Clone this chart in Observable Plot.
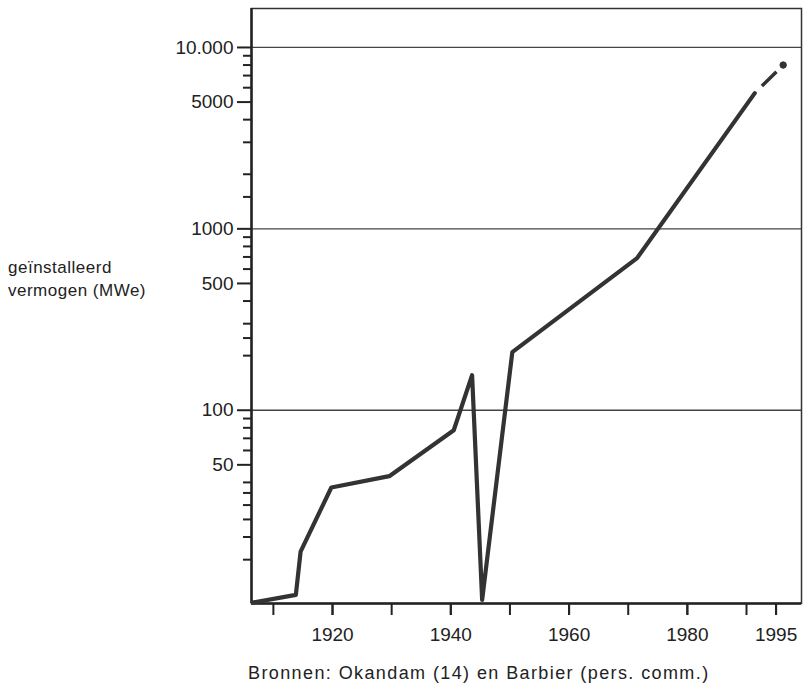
<!DOCTYPE html>
<html>
<head>
<meta charset="utf-8">
<script src="https://cdn.jsdelivr.net/npm/d3@7"></script>
<script src="https://cdn.jsdelivr.net/npm/@observablehq/plot@0.6"></script>
<style>
  body { margin: 0; background: #fff; font-family: "Liberation Sans", Arial, Helvetica, sans-serif; }
  #wrap { position: relative; width: 804px; height: 688px; }
  #ylabel { position: absolute; left: 8px; top: 256px; font-size: 17px; line-height: 23px; color: #222; letter-spacing: 0.5px; }
  #caption { position: absolute; left: 248px; top: 663px; font-size: 18px; color: #222; letter-spacing: 1.4px; white-space: nowrap; }
</style>
</head>
<body>
<div id="wrap">
  <div id="chart"></div>
  <div id="ylabel">geïnstalleerd<br>vermogen (MWe)</div>
  <div id="caption">Bronnen: Okandam (14) en Barbier (pers. comm.)</div>
</div>
<script>
// Installed capacity (MWe)
const years  = [1906.5, 1913.8, 1914.6, 1919.8, 1929.6, 1940.5, 1943.6, 1945.3, 1950.4, 1971.5, 1991.4];
const values = [8.7,    9.6,    16.6,   37.5,   43.3,   77.6,   156,    9.0,    209,    690,    5600];
// projected (dashed) segment
const projYears  = [1991.4, 1996.2];
const projValues = [5600,   8000];

const xDomain = [1906.3, 1999.3];
const yDomain = [8.6, 16400];

const xTicks = [1910, 1920, 1930, 1940, 1950, 1960, 1970, 1980, 1990, 1995];
const xLabels = [1920, 1940, 1960, 1980, 1995];
const yMajor = [50, 100, 500, 1000, 5000, 10000];
const yMinor = [15, 20, 25, 30, 35, 40, 60, 70, 80, 90, 200, 250, 300, 400, 600, 700, 800, 900,
                1500, 2000, 3000, 4000, 6000, 7000, 8000, 9000];
const gridValues = [100, 1000, 10000];

const data = years.map((y, i) => ({year: y, value: values[i]}));
const proj = projYears.map((y, i) => ({year: y, value: projValues[i]}));

const fmt = v => v >= 10000 ? d3.format(",")(v).replace(/,/g, ".") : String(v);

const chart = Plot.plot({
  width: 804,
  height: 652,
  marginLeft: 251,
  marginRight: 3,
  marginTop: 8,
  marginBottom: 49,
  style: {fontFamily: "Liberation Sans, Arial, sans-serif", color: "#222", background: "#fff"},
  x: {domain: xDomain},
  y: {type: "log", domain: yDomain},
  marks: [
    Plot.ruleY(gridValues, {stroke: "#444", strokeWidth: 1.3}),
    Plot.frame({stroke: "#333", strokeWidth: 1.5}),
    Plot.ruleX([xDomain[0]], {stroke: "#222", strokeWidth: 2.5}),
    Plot.ruleY([yDomain[0]], {stroke: "#222", strokeWidth: 2.5}),
    Plot.axisY(yMinor, {tickSize: 8, tickFormat: () => "", label: null, stroke: "#222", strokeWidth: 2}),
    Plot.axisY(yMajor, {tickSize: 14, tickPadding: 4, tickFormat: fmt, label: null,
      fontSize: 19, stroke: "#222", strokeWidth: 2, fill: "#222", style: "letter-spacing:1px"}),
    Plot.axisX(xTicks, {tickSize: 12, tickFormat: () => "", label: null, stroke: "#222", strokeWidth: 2}),
    Plot.axisX(xLabels, {tickSize: 12, tickPadding: 12, tickFormat: d => String(d), label: null,
      fontSize: 19, stroke: "#222", strokeWidth: 2, fill: "#222", style: "letter-spacing:0.6px"}),
    Plot.line(data, {x: "year", y: "value", stroke: "#333", strokeWidth: 4.2, strokeLinejoin: "round"}),
    Plot.line(proj, {x: "year", y: "value", stroke: "#333", strokeWidth: 3.5, strokeLinecap: "butt",
      strokeDasharray: "0,10,20.5,100"}),
    Plot.dot(proj.slice(-1), {x: "year", y: "value", r: 3.2, fill: "#333", stroke: "#333", strokeWidth: 1})
  ]
});
document.getElementById("chart").appendChild(chart);
</script>
</body>
</html>
